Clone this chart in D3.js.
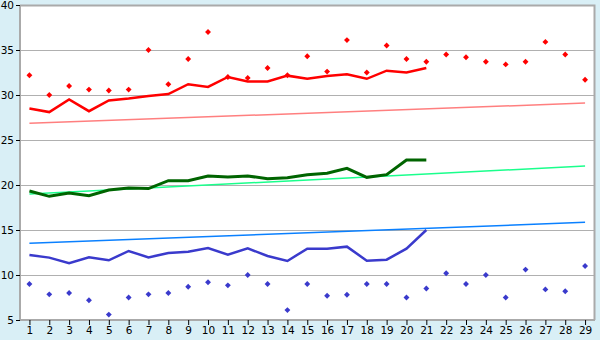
<!DOCTYPE html>
<html>
<head>
<meta charset="utf-8">
<script src="https://cdn.jsdelivr.net/npm/d3@7"></script>
<style>
body { margin: 0; background: #d9eff6; }
svg { display: block; }
text { font-family: "DejaVu Sans", Verdana, sans-serif; fill: #000; }
</style>
</head>
<body>
<div id="chart"></div>
<script>
var width = 600;
var height = 340;

// days on the x axis
var days = d3.range(1, 30);
var yTicks = [5, 10, 15, 20, 25, 30, 35, 40];

// daily maximum (red points) and minimum (blue points)
var maxPoints = [32.2, 30.0, 31.0, 30.6, 30.5, 30.6, 35.0, 31.2, 34.0, 37.0, 32.0, 31.9, 33.0, 32.2, 34.3,
                 32.6, 36.1, 32.5, 35.5, 34.0, 33.7, 34.5, 34.2, 33.7, 33.4, 33.7, 35.9, 34.5, 31.7];
var minPoints = [9.0, 7.85, 8.0, 7.2, 5.6, 7.5, 7.85, 8.0, 8.7, 9.2, 8.85, 10.0, 9.0, 6.1, 9.0,
                 7.7, 7.8, 9.0, 9.0, 7.5, 8.5, 10.2, 9.0, 10.0, 7.5, 10.6, 8.4, 8.2, 11.0];

// running lines, days 1-21
var highLine = [28.5, 28.1, 29.5, 28.2, 29.4, 29.6, 29.9, 30.1, 31.2, 30.9, 32.0, 31.5, 31.5, 32.15,
                31.8, 32.1, 32.3, 31.8, 32.7, 32.5, 33.0];
var meanLine = [19.33, 18.74, 19.11, 18.81, 19.44, 19.67, 19.6, 20.48, 20.48, 21.0, 20.89, 21.0, 20.7, 20.8,
                21.15, 21.3, 21.85, 20.85, 21.15, 22.78, 22.78];
var lowLine = [12.22, 11.93, 11.3, 11.96, 11.63, 12.67, 11.96, 12.44, 12.59, 13.0, 12.26, 12.96, 12.11, 11.56,
               12.93, 12.93, 13.15, 11.59, 11.7, 12.93, 15.0];

// trend lines: value on day 1 and on day 29
var highTrend = [26.85, 29.1];
var meanTrend = [19.0, 22.1];
var lowTrend = [13.52, 15.85];

var margin = {top: 5, right: 5, bottom: 20, left: 20};

var svg = d3.select("#chart")
  .append("svg")
    .attr("width", width)
    .attr("height", height);

var x = d3.scalePoint()
  .domain(days)
  .range([19.5, width - margin.right])
  .padding(0.5);

var y = d3.scaleLinear()
  .domain([5, 40])
  .range([height - margin.bottom, margin.top]);

// plot background
svg.append("rect")
  .attr("x", margin.left)
  .attr("y", margin.top)
  .attr("width", width - margin.right - margin.left)
  .attr("height", height - margin.bottom - margin.top)
  .attr("fill", "#fff");

// gridlines
svg.append("g")
  .selectAll("line")
  .data(yTicks.slice(1))
  .enter()
    .append("line")
      .attr("x1", margin.left)
      .attr("x2", width - margin.right)
      .attr("y1", function (d) { return Math.round(y(d)) + 0.5; })
      .attr("y2", function (d) { return Math.round(y(d)) + 0.5; })
      .attr("stroke", "#b0b0b0");

// frame on the right and top
svg.append("path")
  .attr("d", "M" + (margin.left) + "," + (margin.top + 0.5) + "H" + (width - margin.right - 0.5) + "V" + (height - margin.bottom))
  .attr("fill", "none")
  .attr("stroke", "#aaaaaa")
  .attr("stroke-width", 2);

// trend lines
function trendData(t) { return [{d: 1, v: t[0]}, {d: 29, v: t[1]}]; }
var trendLine = d3.line()
  .x(function (p) { return x(p.d); })
  .y(function (p) { return y(p.v); });

[[highTrend, "#ff7f7f"], [meanTrend, "#1aff8c"], [lowTrend, "#0a80ff"]].forEach(function (t) {
  svg.append("path")
    .attr("d", trendLine(trendData(t[0])))
    .attr("fill", "none")
    .attr("stroke", t[1])
    .attr("stroke-width", 1.5);
});

// running lines
var runLine = d3.line()
  .x(function (v, i) { return x(days[i]); })
  .y(function (v) { return y(v); });

[[highLine, "#ff0000", 2.5], [meanLine, "#006400", 3], [lowLine, "#3a3acc", 2.5]].forEach(function (s) {
  svg.append("path")
    .attr("d", runLine(s[0]))
    .attr("fill", "none")
    .attr("stroke", s[1])
    .attr("stroke-width", s[2]);
});

// point markers
var diamond = d3.symbol().type(d3.symbolDiamond2).size(22);

svg.append("g").selectAll("path")
  .data(maxPoints)
  .enter()
    .append("path")
      .attr("d", diamond)
      .attr("transform", function (v, i) { return "translate(" + x(days[i]) + "," + y(v) + ")"; })
      .attr("fill", "#ff0000");

svg.append("g").selectAll("path")
  .data(minPoints)
  .enter()
    .append("path")
      .attr("d", diamond)
      .attr("transform", function (v, i) { return "translate(" + x(days[i]) + "," + y(v) + ")"; })
      .attr("fill", "#3a3acc");

// axes
var xAxis = svg.append("g")
  .attr("transform", "translate(0," + (height - margin.bottom) + ")")
  .call(d3.axisBottom(x).tickSize(5).tickPadding(2));
xAxis.select(".domain").attr("stroke", "#aaaaaa").attr("stroke-width", 2)
  .attr("d", "M" + margin.left + ",0H" + (width - margin.right));
xAxis.selectAll("text").style("font-size", "10.5px");

var yAxis = svg.append("g")
  .attr("transform", "translate(" + margin.left + ",0)")
  .call(d3.axisLeft(y).tickValues(yTicks).tickSize(4).tickPadding(2));
yAxis.select(".domain").attr("stroke", "#aaaaaa").attr("stroke-width", 2)
  .attr("d", "M0," + margin.top + "V" + (height - margin.bottom));
yAxis.selectAll("text").style("font-size", "10.5px");
</script>
</body>
</html>
